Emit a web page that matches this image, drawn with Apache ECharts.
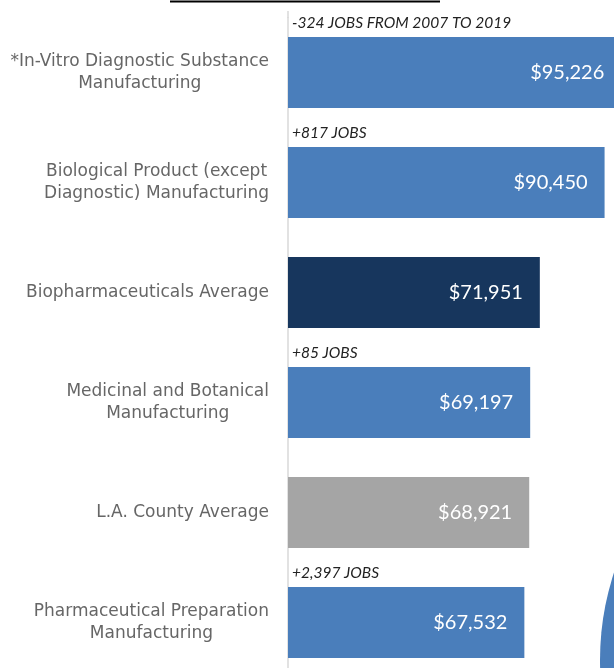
<!DOCTYPE html>
<html>
<head>
<meta charset="utf-8">
<script src="https://cdn.jsdelivr.net/npm/echarts@6/dist/echarts.min.js"></script>
<style>
  html, body { margin: 0; padding: 0; background: #ffffff; }
  #chart { width: 614px; height: 668px; }
</style>
</head>
<body>
<div id="chart"></div>
<script>
// Average annual wages by industry, with job change 2007–2019
const categories = [
  '*In-Vitro Diagnostic Substance\nManufacturing',
  'Biological Product (except\nDiagnostic) Manufacturing',
  'Biopharmaceuticals Average',
  'Medicinal and Botanical\nManufacturing',
  'L.A. County Average',
  'Pharmaceutical Preparation\nManufacturing'
];
const wages = [95226, 90450, 71951, 69197, 68921, 67532];
const jobNotes = ['-324 JOBS FROM 2007 TO 2019', '+817 JOBS', '', '+85 JOBS', '', '+2,397 JOBS'];
const barColors = ['#4a7ebb', '#4a7ebb', '#17365d', '#4a7ebb', '#a5a5a5', '#4a7ebb'];

const chart = echarts.init(document.getElementById('chart'));

const fmt = v => '$' + v.toLocaleString('en-US');

chart.setOption({
  animation: false,
  backgroundColor: '#ffffff',
  grid: {
    left: 288, top: 17.5, width: 350, height: 660,
    containLabel: false,
    outerBoundsMode: 'none'
  },
  xAxis: {
    type: 'value', min: 0, max: 100000,
    show: false
  },
  yAxis: {
    type: 'category',
    inverse: true,
    data: categories,
    axisLine: { show: true, lineStyle: { color: '#d9d9d9', width: 1.5 } },
    axisTick: { show: false },
    axisLabel: {
      margin: 19,
      align: 'right',
      // block sits right-aligned against the axis, each line centred inside it
      formatter: v => v.split('\n').map(s => '{c|' + s + '}').join('\n'),
      rich: {
        c: {
          align: 'center',
          color: '#666666',
          fontFamily: 'DejaVu Sans',
          fontSize: 17,
          lineHeight: 22
        }
      }
    }
  },
  series: [
    {
      type: 'bar',
      barWidth: 71,
      data: wages.map((v, i) => ({ value: v, itemStyle: { color: barColors[i] } })),
      label: {
        show: true,
        position: 'insideRight',
        distance: 17,
        color: '#ffffff',
        fontFamily: 'Lato',
        fontSize: 20,
        formatter: p => fmt(p.value)
      }
    },
    {
      // job-change notes above each bar
      type: 'bar',
      barWidth: 71,
      barGap: '-100%',
      silent: true,
      itemStyle: { color: 'rgba(0,0,0,0)' },
      data: wages,
      label: {
        show: true,
        position: 'insideLeft',
        color: '#222222',
        fontFamily: 'Lato',
        fontStyle: 'italic',
        fontSize: 15.5,
        formatter: p => jobNotes[p.dataIndex]
      },
      labelLayout: p => ({
        x: p.rect.x + 4,
        y: p.rect.y - 14,
        align: 'left',
        verticalAlign: 'middle'
      })
    }
  ],
  graphic: [
    {
      type: 'line',
      shape: { x1: 170, y1: 1.5, x2: 440, y2: 1.5 },
      style: { stroke: '#000000', lineWidth: 2 }
    },
    {
      // axis line continues a little above the first bar band
      type: 'line',
      shape: { x1: 288, y1: 11, x2: 288, y2: 18 },
      style: { stroke: '#d9d9d9', lineWidth: 1.5 }
    },
    {
      type: 'circle',
      shape: { cx: 880, cy: 660, r: 280 },
      style: { fill: '#4a7ebb' }
    }
  ]
});
</script>
</body>
</html>
